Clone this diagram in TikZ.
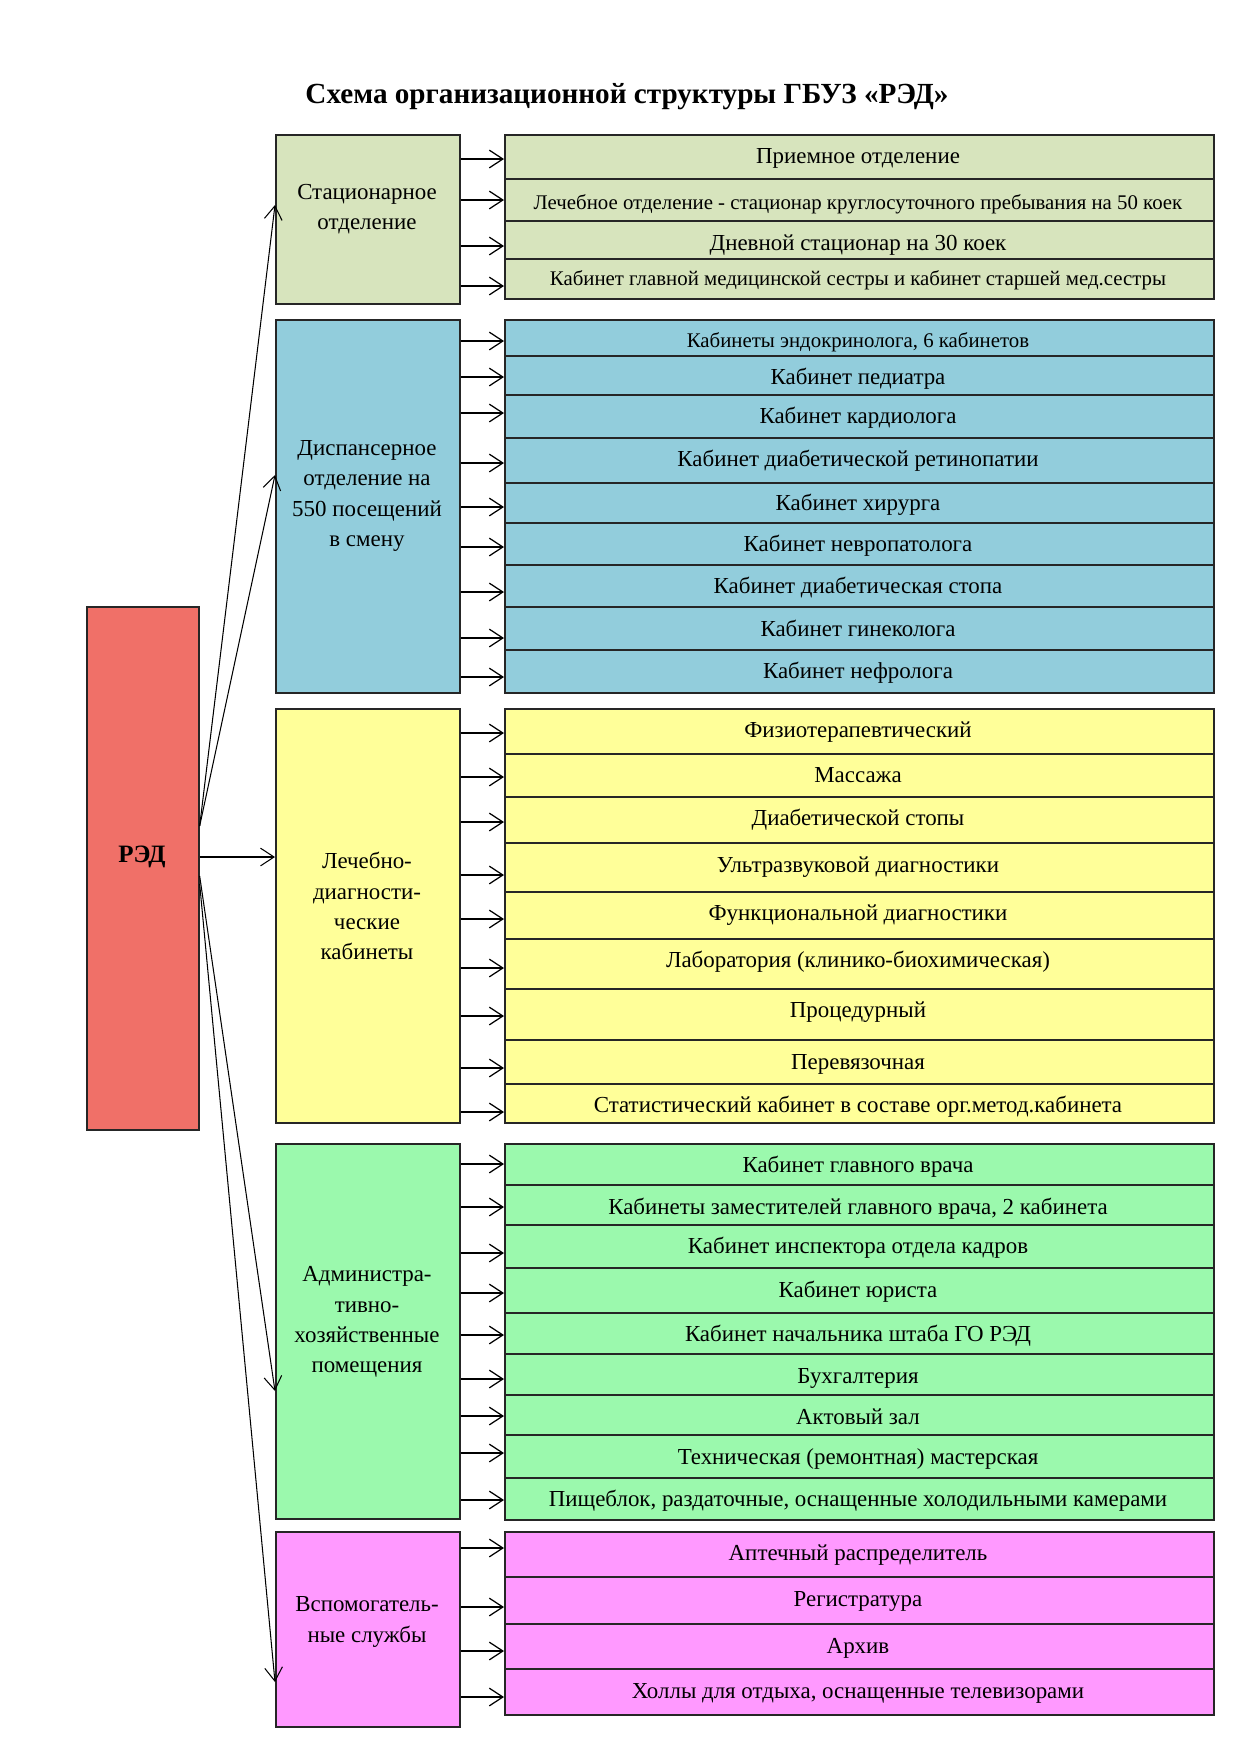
\documentclass[tikz,border=0pt]{standalone}
\usepackage{fontspec}
\setmainfont{Liberation Serif}
\usetikzlibrary{arrows.meta}
\definecolor{cST}{HTML}{D7E4BD}
\definecolor{cDI}{HTML}{92CDDC}
\definecolor{cLD}{HTML}{FFFF99}
\definecolor{cAD}{HTML}{9BF9AD}
\definecolor{cVS}{HTML}{FF99FF}
\definecolor{cRD}{HTML}{F07068}
\newcommand\bxx[6]{\node[box,fill=#1,minimum width={(#4-#2)*0.48pt},minimum height={(#5-#3)*0.48pt}] (#6) at (#2,#3) {};}
\newcommand\rw[7]{%
  \node[box,fill=#2,minimum width={709*0.48pt},minimum height={(#4-#3)*0.48pt}] (#1) at (504,#3) {};
  \node[rowtext,font=\fontsize{#6}{#6}\selectfont] (#1t) at (858,#5) {#7};}
\begin{document}
\begin{tikzpicture}[x=0.48pt,y=-0.48pt,
  box/.style={draw=black!85, line width=0.8pt, inner sep=0pt, anchor=north west},
  rowtext/.style={anchor=mid, inner sep=0pt, yshift=-1.5pt},
  grptext/.style={align=center, inner sep=0pt, font=\fontsize{11}{14.5}\selectfont},
  arr/.style={-{Straight Barb[length=6.5pt,width=8.5pt]}, line width=0.6pt},
  farr/.style={-{Straight Barb[length=6.5pt,width=8.5pt]}, line width=0.5pt}]
\useasboundingbox[fill=white] (0,0) rectangle (1240,1755);

\node[font=\fontsize{14}{16}\selectfont\bfseries, inner sep=0pt] (title) at (627,97) {Схема организационной структуры ГБУЗ «РЭД»};

% root
\bxx{cRD}{86}{606}{198}{1129}{red}
\node[font=\fontsize{12}{14}\selectfont\bfseries, inner sep=0pt] (redt) at (142,857) {РЭД};

% group boxes
\bxx{cST}{275}{134}{459}{303}{g1}
\bxx{cDI}{275}{319}{459}{692}{g2}
\bxx{cLD}{275}{708}{459}{1122}{g3}
\bxx{cAD}{275}{1143}{459}{1518}{g4}
\bxx{cVS}{275}{1531}{459}{1726}{g5}
\node[grptext] (g1t) at (367,209) {Стационарное\\отделение};
\node[grptext] (g2t) at (367,496) {Диспансерное\\отделение на\\550 посещений\\в смену};
\node[grptext] (g3t) at (367,906) {Лечебно-\\диагности-\\ческие\\кабинеты};
\node[grptext] (g4t) at (367,1322) {Администра-\\тивно-\\хозяйственные\\помещения};
\node[grptext] (g5t) at (367,1622) {Вспомогатель-\\ные службы};

% group 1
\rw{r11}{cST}{134}{178}{156}{11}{Приемное отделение}
\rw{r12}{cST}{178}{220}{202}{10}{Лечебное отделение - стационар круглосуточного пребывания на 50 коек}
\rw{r13}{cST}{220}{258}{243}{11}{Дневной стационар на 30 коек}
\rw{r14}{cST}{258}{298}{278}{10}{Кабинет главной медицинской сестры и кабинет старшей мед.сестры}
% group 2
\rw{r21}{cDI}{319}{355}{340}{10}{Кабинеты эндокринолога, 6 кабинетов}
\rw{r22}{cDI}{355}{394}{377}{11}{Кабинет педиатра}
\rw{r23}{cDI}{394}{437}{416}{11}{Кабинет кардиолога}
\rw{r24}{cDI}{437}{482}{459}{11}{Кабинет диабетической ретинопатии}
\rw{r25}{cDI}{482}{522}{503}{11}{Кабинет хирурга}
\rw{r26}{cDI}{522}{564}{544}{11}{Кабинет невропатолога}
\rw{r27}{cDI}{564}{606}{586}{11}{Кабинет диабетическая стопа}
\rw{r28}{cDI}{606}{649}{629}{11}{Кабинет гинеколога}
\rw{r29}{cDI}{649}{692}{671}{11}{Кабинет нефролога}
% group 3
\rw{r31}{cLD}{708}{753}{730}{11}{Физиотерапевтический}
\rw{r32}{cLD}{753}{796}{775}{11}{Массажа}
\rw{r33}{cLD}{796}{842}{818}{11}{Диабетической стопы}
\rw{r34}{cLD}{842}{891}{865}{11}{Ультразвуковой диагностики}
\rw{r35}{cLD}{891}{938}{913}{11}{Функциональной диагностики}
\rw{r36}{cLD}{938}{988}{960}{11}{Лаборатория (клинико-биохимическая)}
\rw{r37}{cLD}{988}{1039}{1010}{11}{Процедурный}
\rw{r38}{cLD}{1039}{1083}{1062}{11}{Перевязочная}
\rw{r39}{cLD}{1083}{1122}{1105}{11}{Статистический кабинет в составе орг.метод.кабинета}
% group 4
\rw{r41}{cAD}{1143}{1184}{1165}{11}{Кабинет главного врача}
\rw{r42}{cAD}{1184}{1224}{1207}{11}{Кабинеты заместителей главного врача, 2 кабинета}
\rw{r43}{cAD}{1224}{1267}{1246}{11}{Кабинет инспектора отдела кадров}
\rw{r44}{cAD}{1267}{1312}{1290}{11}{Кабинет юриста}
\rw{r45}{cAD}{1312}{1353}{1334}{11}{Кабинет начальника штаба ГО РЭД}
\rw{r46}{cAD}{1353}{1394}{1376}{11}{Бухгалтерия}
\rw{r47}{cAD}{1394}{1434}{1417}{11}{Актовый зал}
\rw{r48}{cAD}{1434}{1477}{1457}{11}{Техническая (ремонтная) мастерская}
\rw{r49}{cAD}{1477}{1519}{1499}{11}{Пищеблок, раздаточные, оснащенные холодильными камерами}
% group 5
\rw{r51}{cVS}{1531}{1576}{1553}{11}{Аптечный распределитель}
\rw{r52}{cVS}{1576}{1623}{1599}{11}{Регистратура}
\rw{r53}{cVS}{1623}{1668}{1646}{11}{Архив}
\rw{r54}{cVS}{1668}{1714}{1691}{11}{Холлы для отдыха, оснащенные телевизорами}

% arrows from root
\draw[farr] (red.east |- 0,826) -- (g1.west |- 0,205);
\draw[farr] (red.east |- 0,826) -- (g2.west |- 0,475);
\draw[farr] (red.east |- 0,857) -- (g3.west |- 0,857);
\draw[farr] (red.east |- 0,876) -- (g4.west |- 0,1391);
\draw[farr] (red.east |- 0,884) -- (g5.west |- 0,1682);

% arrows to rows
\foreach \y/\r in {159/r11,200/r12,246/r13,286/r14}
  \draw[arr] (g1.east |- 0,\y) -- (\r.west |- 0,\y);
\foreach \y/\r in {341/r21,377/r22,413/r23,463/r24,507/r25,547/r26,592/r27,638/r28,677/r29}
  \draw[arr] (g2.east |- 0,\y) -- (\r.west |- 0,\y);
\foreach \y/\r in {733/r31,777/r32,822/r33,875/r34,919/r35,968/r36,1016/r37,1068/r38,1112/r39}
  \draw[arr] (g3.east |- 0,\y) -- (\r.west |- 0,\y);
\foreach \y/\r in {1164/r41,1207/r42,1253/r43,1293/r44,1335/r45,1379/r46,1416/r47,1453/r48,1500/r49}
  \draw[arr] (g4.east |- 0,\y) -- (\r.west |- 0,\y);
\foreach \y/\r in {1548/r51,1607/r52,1651/r53,1697/r54}
  \draw[arr] (g5.east |- 0,\y) -- (\r.west |- 0,\y);
\end{tikzpicture}
\end{document}
